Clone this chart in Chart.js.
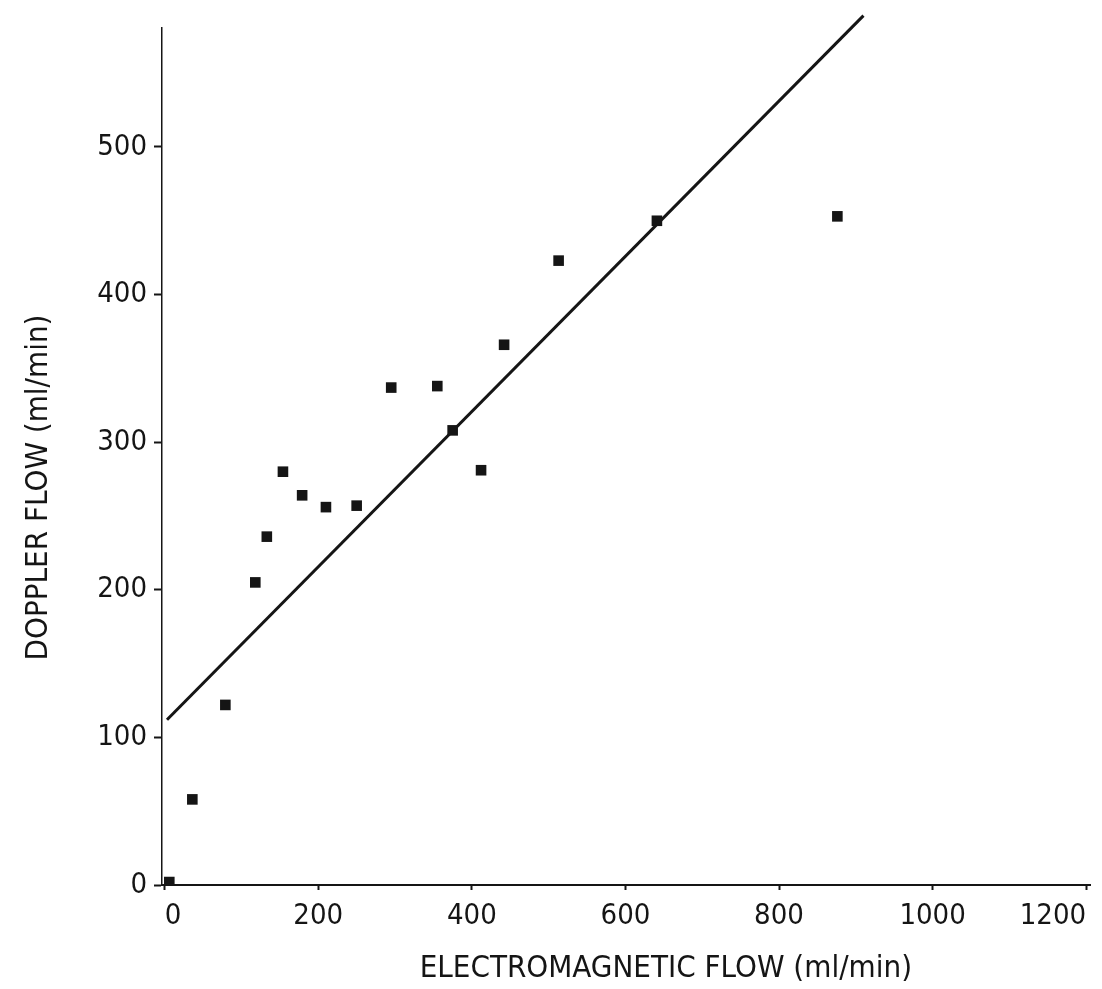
<!DOCTYPE html>
<html>
<head>
<meta charset="utf-8">
<title>Doppler vs electromagnetic flow</title>
<script src="https://cdn.jsdelivr.net/npm/chart.js@4.4.1/dist/chart.umd.min.js"></script>
<style>
	html, body { margin: 0; padding: 0; background: #fff; }
	#wrap { width: 1102px; height: 989px; position: relative; }
</style>
</head>
<body>
<div id="wrap"><canvas id="flowChart"></canvas></div>
<script>
// measured points (ml/min)
const emFlow = [6, 36, 79, 118, 133, 154, 179, 210, 250, 295, 355, 375, 412, 442, 513, 641, 876];
const dopplerFlow = [2, 58, 122, 205, 236, 280, 264, 256, 257, 337, 338, 308, 281, 366, 423, 450, 453];

// regression line end points
const fitX = [3, 910];
const fitY = [112, 589];

const xTicks = [0, 200, 400, 600, 800, 1000, 1200];
const yTicks = [0, 100, 200, 300, 400, 500];

const ink = '#151515';
const tickFont = { family: '"Liberation Sans Narrow", "Arial Narrow", "DejaVu Sans Condensed", sans-serif', size: 29 };
const titleFont = { family: '"DejaVu Sans Condensed", "Liberation Sans Narrow", sans-serif', size: 31 };

function toPoints(xs, ys) {
	return xs.map((x, i) => ({ x: x, y: ys[i] }));
}

Chart.defaults.color = ink;

new Chart(document.getElementById('flowChart'), {
	type: 'scatter',
	data: {
		datasets: [{
			label: 'Measured',
			data: toPoints(emFlow, dopplerFlow),
			pointStyle: 'rect',
			pointRadius: 7.5,
			backgroundColor: ink,
			borderColor: ink,
			borderWidth: 0
		}, {
			type: 'line',
			label: 'Fit',
			data: toPoints(fitX, fitY),
			borderColor: ink,
			borderWidth: 3,
			pointRadius: 0,
			fill: false,
			clip: { left: 0, top: 20, right: 0, bottom: 0 }
		}]
	},
	options: {
		responsive: true,
		maintainAspectRatio: false,
		animation: false,
		layout: { padding: { top: 28, right: 12, left: 0, bottom: 0 } },
		plugins: {
			legend: { display: false },
			tooltip: { enabled: false }
		},
		scales: {
			x: {
				type: 'linear',
				min: -3.5,
				max: 1205,
				afterFit: (scale) => { scale.height = 104; },
				afterBuildTicks: (scale) => { scale.ticks = xTicks.map(v => ({ value: v })); },
				border: { color: ink, width: 2 },
				grid: { drawOnChartArea: false, tickLength: 5, tickColor: ink, tickWidth: 2 },
				ticks: { font: tickFont, padding: 9, align: 'inner', maxRotation: 0, callback: (v) => String(v) },
				title: {
					display: true,
					text: '\u00a0\u00a0\u00a0\u00a0\u00a0\u00a0\u00a0\u00a0\u00a0ELECTROMAGNETIC FLOW (ml/min)',
					font: titleFont,
					padding: { top: 0, bottom: 1 }
				}
			},
			y: {
				type: 'linear',
				min: 0,
				max: 580.6,
				afterFit: (scale) => { scale.width = 162; },
				afterBuildTicks: (scale) => { scale.ticks = yTicks.map(v => ({ value: v })); },
				border: { color: ink, width: 1.5 },
				grid: { drawOnChartArea: false, tickLength: 8, tickColor: ink, tickWidth: 2 },
				ticks: { font: tickFont, padding: 7, callback: (v) => String(v) },
				title: {
					display: true,
					text: 'DOPPLER FLOW (ml/min)\u00a0\u00a0\u00a0\u00a0\u00a0\u00a0\u00a0',
					font: titleFont,
					padding: { top: 20, bottom: 0 }
				}
			}
		}
	}
});
</script>
</body>
</html>
